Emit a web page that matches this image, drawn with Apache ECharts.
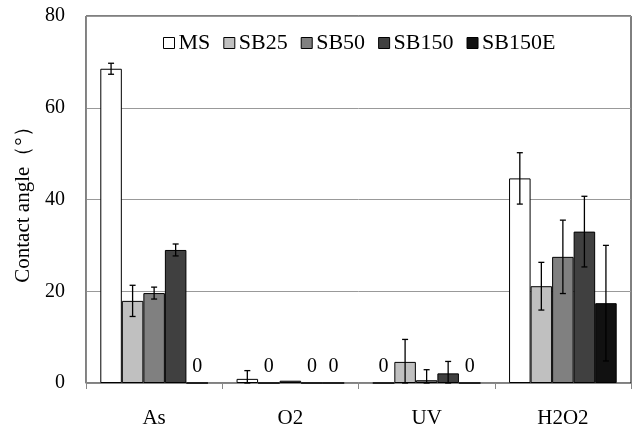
<!DOCTYPE html>
<html>
<head>
<meta charset="utf-8">
<script src="https://cdn.jsdelivr.net/npm/echarts@6/dist/echarts.min.js"></script>
<style>
html, body { margin: 0; padding: 0; background: #fff; }
#chart { width: 636px; height: 430px; }
</style>
</head>
<body>
<div id="chart"></div>
<script>
// categories and series
var categories = ['As', 'O2', 'UV', 'H2O2'];
var seriesNames = ['MS', 'SB25', 'SB50', 'SB150', 'SB150E'];
var colors = ['#ffffff', '#c0c0c0', '#808080', '#404040', '#111111'];

var msValues = [68.5, 0.9, 0, 44.6];
var sb25Values = [17.9, 0, 4.6, 21.1];
var sb50Values = [19.6, 0.5, 0.6, 27.5];
var sb150Values = [29.0, 0, 2.1, 33.0];
var sb150eValues = [0, 0, 0, 17.4];

// standard deviations (null = no bar)
var msErr = [1.2, 1.8, null, 5.6];
var sb25Err = [3.4, null, 4.9, 5.2];
var sb50Err = [1.3, null, 2.3, 8.0];
var sb150Err = [1.3, null, 2.6, 7.7];
var sb150eErr = [null, null, null, 12.6];

var yTicks = [0, 20, 40, 60, 80];

var allValues = [msValues, sb25Values, sb50Values, sb150Values, sb150eValues];
var allErr = [msErr, sb25Err, sb50Err, sb150Err, sb150eErr];

var FONT = '"Liberation Serif", "Times New Roman", serif';
var GAP = 0.21;

var chart = echarts.init(document.getElementById('chart'));

var series = [];
seriesNames.forEach(function (name, i) {
  series.push({
    name: name,
    type: 'bar',
    barGap: 0,
    barCategoryGap: (GAP * 100) + '%',
    data: allValues[i],
    itemStyle: { color: colors[i], borderColor: '#000', borderWidth: 1 },
    label: {
      show: true,
      position: 'top',
      distance: 6,
      fontFamily: FONT,
      fontSize: 20,
      color: '#000',
      formatter: function (p) { return p.value === 0 ? '0' : ''; }
    },
    emphasis: { disabled: true }
  });
});

seriesNames.forEach(function (name, i) {
  var pts = [];
  allValues[i].forEach(function (v, k) {
    if (allErr[i][k] != null) pts.push([k, v, allErr[i][k]]);
  });
  series.push({
    type: 'custom',
    name: name + ' err',
    data: pts,
    encode: { x: 0, y: 1 },
    z: 10,
    silent: true,
    renderItem: function (params, api) {
      var k = api.value(0), v = api.value(1), e = api.value(2);
      var band = api.size([1, 0])[0];
      var bw = band * (1 - GAP) / seriesNames.length;
      var c = api.coord([k, v]);
      var x = c[0] + (i - (seriesNames.length - 1) / 2) * bw;
      var top = api.coord([k, v + e])[1];
      var bot = api.coord([k, Math.max(0, v - e)])[1];
      var cap = 3;
      var st = { stroke: '#000', lineWidth: 1.3 };
      return {
        type: 'group',
        children: [
          { type: 'line', shape: { x1: x, y1: top, x2: x, y2: bot }, style: st },
          { type: 'line', shape: { x1: x - cap, y1: top, x2: x + cap, y2: top }, style: st },
          { type: 'line', shape: { x1: x - cap, y1: bot, x2: x + cap, y2: bot }, style: st }
        ]
      };
    }
  });
});

var option = {
  animation: false,
  backgroundColor: '#fff',
  textStyle: { fontFamily: FONT },
  legend: {
    data: seriesNames,
    left: 163,
    top: 32,
    padding: 0,
    itemWidth: 11,
    itemHeight: 11,
    itemGap: 13,
    icon: 'rect',
    textStyle: { fontFamily: FONT, fontSize: 22, color: '#000', padding: [0, 0, 0, -1] },
    itemStyle: { borderColor: '#000', borderWidth: 1 }
  },
  grid: {
    left: 86, right: 5, top: 16, bottom: 47,
    show: true, borderColor: '#000', borderWidth: 1
  },
  xAxis: {
    type: 'category',
    data: categories,
    axisLine: { lineStyle: { color: '#888', width: 1 } },
    axisTick: { show: true, length: 6, lineStyle: { color: '#888' } },
    axisLabel: { fontFamily: FONT, fontSize: 21, color: '#000', margin: 25 }
  },
  yAxis: {
    type: 'value',
    min: yTicks[0],
    max: yTicks[yTicks.length - 1],
    interval: 20,
    name: 'Contact angle（°）',
    nameLocation: 'middle',
    nameGap: 49,
    nameTextStyle: { fontFamily: FONT, fontSize: 21, color: '#000' },
    axisLine: { show: true, lineStyle: { color: '#888', width: 1 } },
    axisTick: { show: false },
    axisLabel: { fontFamily: FONT, fontSize: 20, color: '#000', margin: 21 },
    splitLine: { lineStyle: { color: '#999', width: 1 } }
  },
  series: series
};

chart.setOption(option);
</script>
</body>
</html>
